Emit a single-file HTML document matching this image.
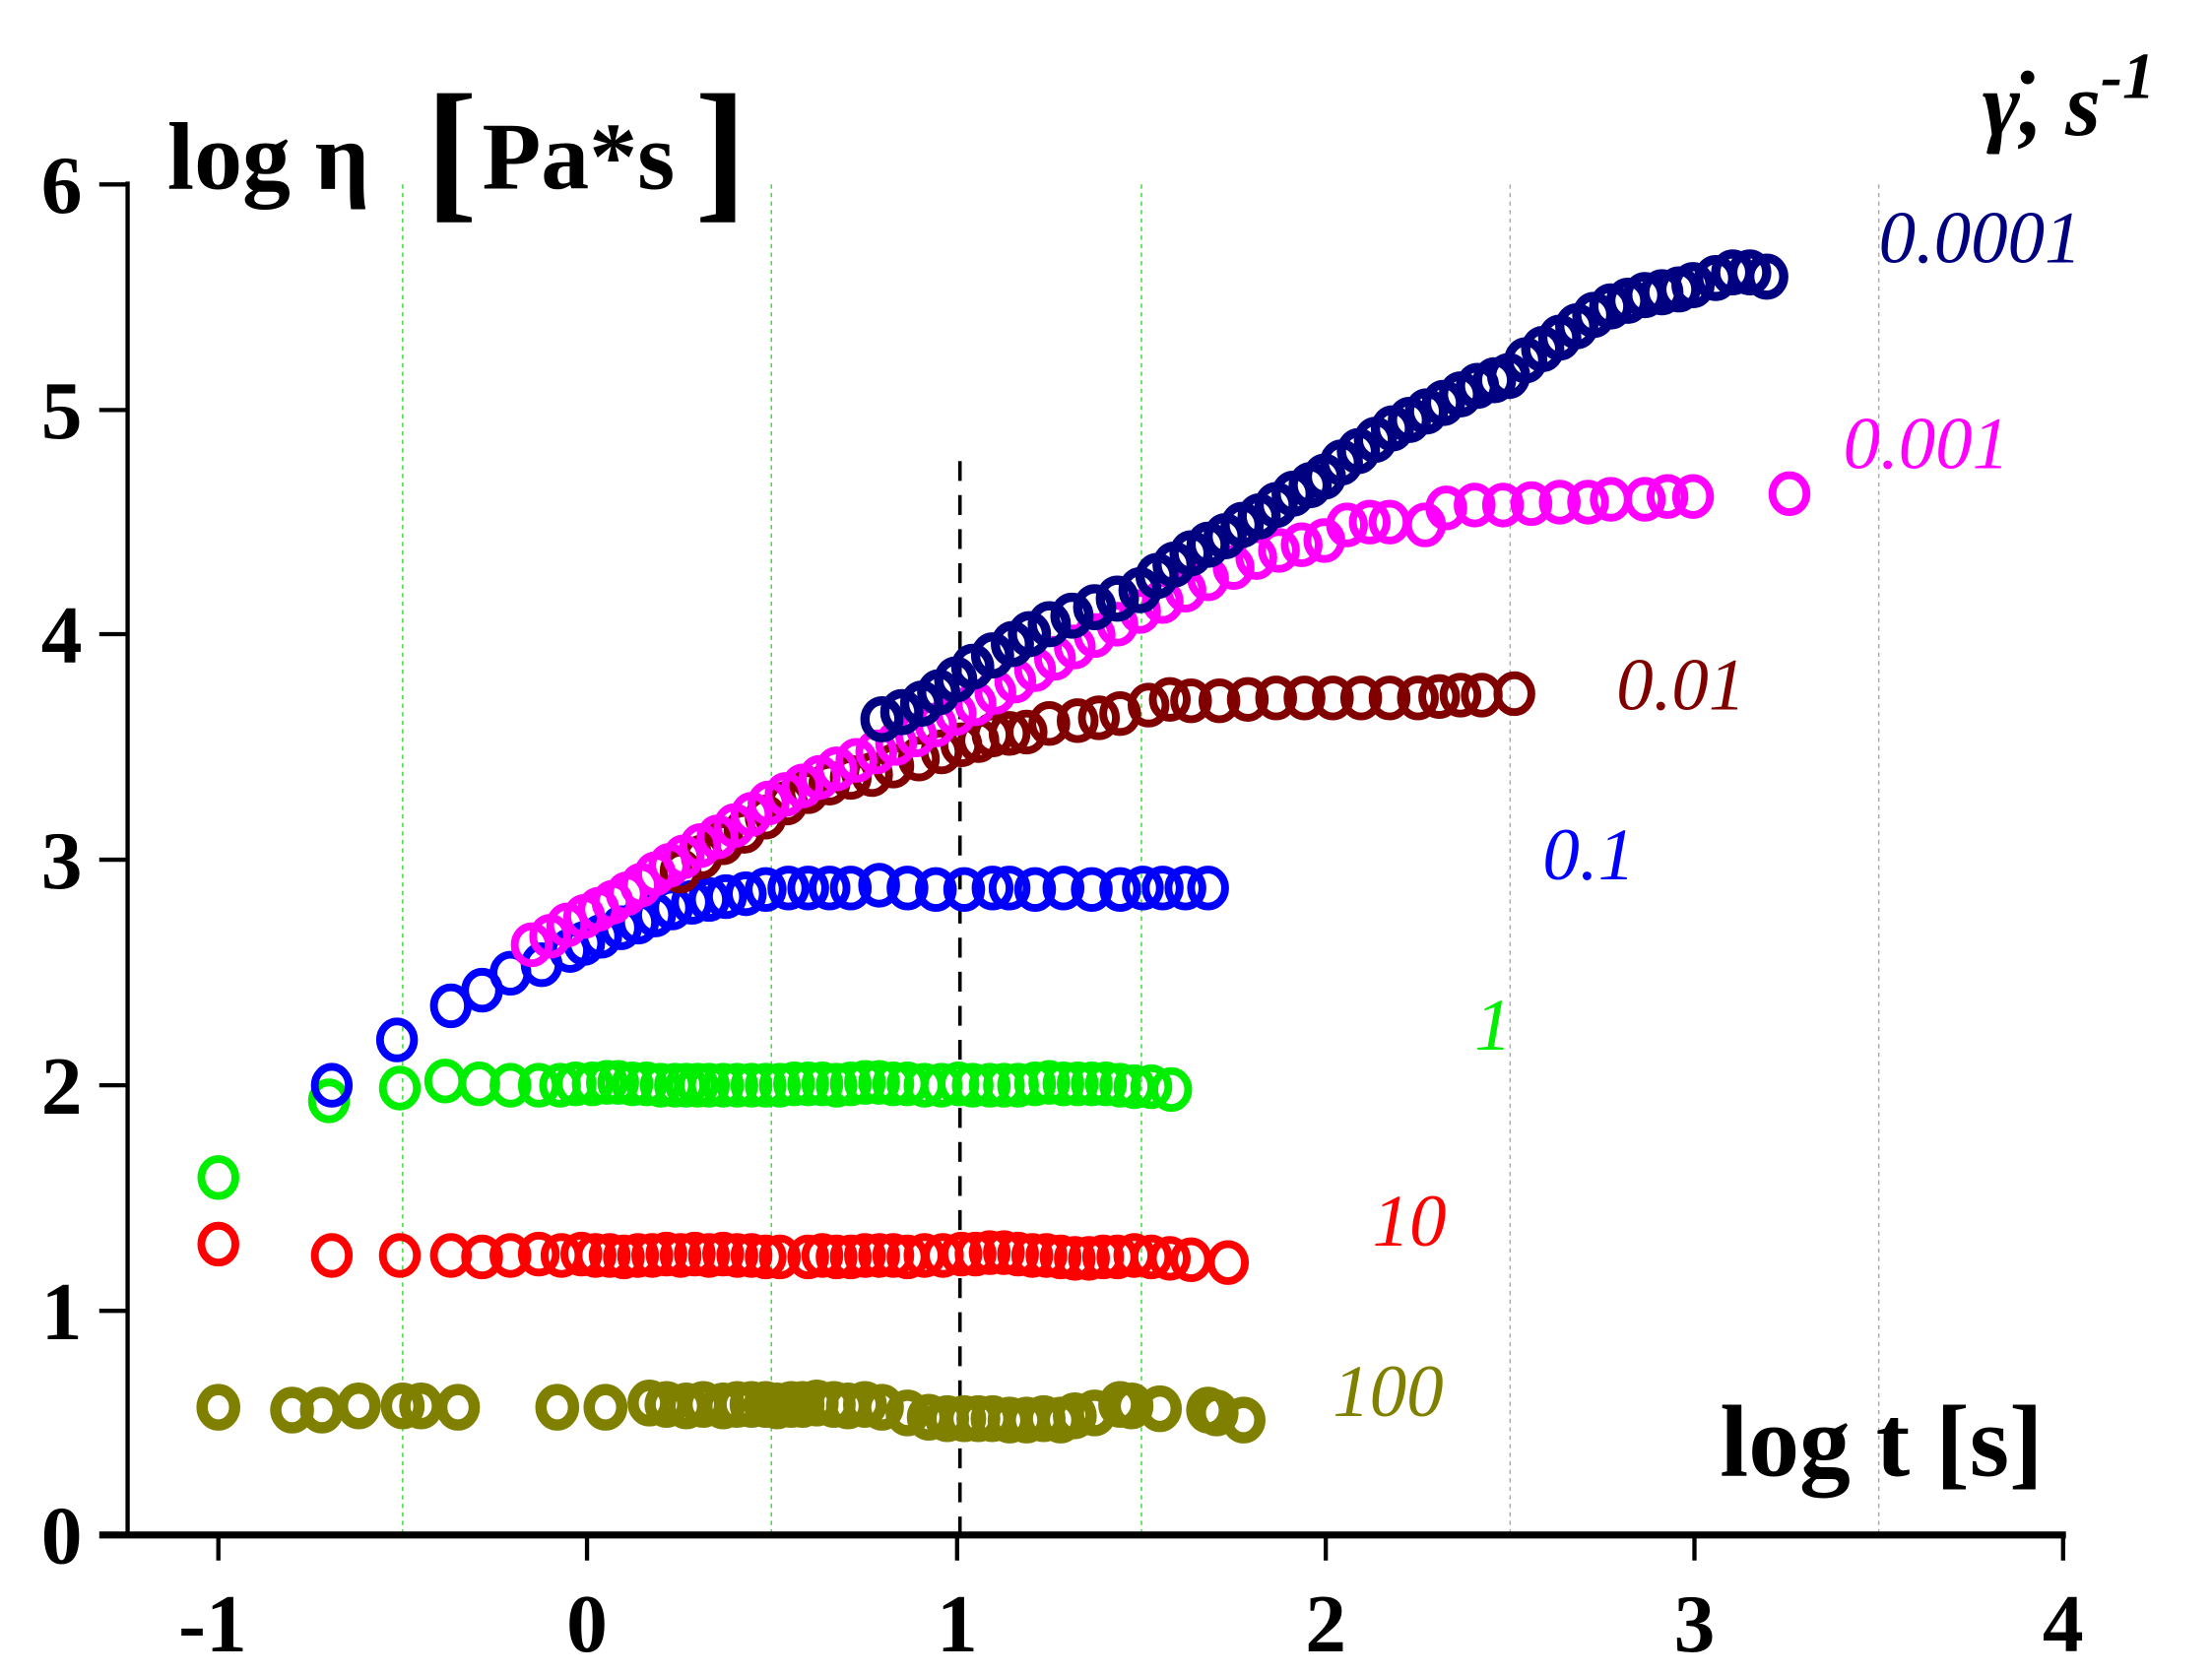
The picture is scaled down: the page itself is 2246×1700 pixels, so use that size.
<!DOCTYPE html>
<html><head><meta charset="utf-8"><style>
html,body{margin:0;padding:0;background:#fff;}
svg{display:block;}
</style></head><body>
<svg width="2246" height="1700" viewBox="0 0 1560 1180" preserveAspectRatio="none" xmlns="http://www.w3.org/2000/svg">
<defs>
<marker id="mo" markerWidth="40" markerHeight="40" refX="20" refY="20" markerUnits="userSpaceOnUse" overflow="visible"><ellipse cx="20" cy="20" rx="11.5" ry="12.5" fill="none" stroke="#808000" stroke-width="8"/></marker>
<marker id="mr" markerWidth="40" markerHeight="40" refX="20" refY="20" markerUnits="userSpaceOnUse" overflow="visible"><ellipse cx="20" cy="20" rx="12" ry="13" fill="none" stroke="#ff0000" stroke-width="5.5"/></marker>
<marker id="mg" markerWidth="40" markerHeight="40" refX="20" refY="20" markerUnits="userSpaceOnUse" overflow="visible"><ellipse cx="20" cy="20" rx="12" ry="13" fill="none" stroke="#00ee00" stroke-width="5.5"/></marker>
<marker id="mb" markerWidth="40" markerHeight="40" refX="20" refY="20" markerUnits="userSpaceOnUse" overflow="visible"><ellipse cx="20" cy="20" rx="12" ry="13" fill="none" stroke="#0000ff" stroke-width="5.5"/></marker>
<marker id="mw" markerWidth="40" markerHeight="40" refX="20" refY="20" markerUnits="userSpaceOnUse" overflow="visible"><ellipse cx="20" cy="20" rx="12" ry="13" fill="none" stroke="#800000" stroke-width="5.5"/></marker>
<marker id="mm" markerWidth="40" markerHeight="40" refX="20" refY="20" markerUnits="userSpaceOnUse" overflow="visible"><ellipse cx="20" cy="20" rx="12" ry="13" fill="none" stroke="#ff00ff" stroke-width="5.5"/></marker>
<marker id="mn" markerWidth="40" markerHeight="40" refX="20" refY="20" markerUnits="userSpaceOnUse" overflow="visible"><ellipse cx="20" cy="20" rx="12" ry="13" fill="none" stroke="#000080" stroke-width="6.5"/></marker>
</defs>
<g stroke-width="1" stroke-dasharray="3,3">
<line x1="284" y1="130" x2="284" y2="1080" stroke="#33dd33"/>
<line x1="544" y1="130" x2="544" y2="1080" stroke="#33dd33"/>
<line x1="805" y1="130" x2="805" y2="1080" stroke="#33dd33"/>
<line x1="1065" y1="130" x2="1065" y2="1080" stroke="#aaa"/>
<line x1="1325" y1="130" x2="1325" y2="1080" stroke="#aaa"/>
</g>
<line x1="677" y1="325" x2="677" y2="1082" stroke="#000" stroke-width="2.5" stroke-dasharray="14,10"/>
<g fill="none" stroke="none">
<polyline marker-start="url(#mo)" marker-mid="url(#mo)" marker-end="url(#mo)" points="154,992 206,994 227,994 253,991 284,991 297,991 323,992 393,992 427,992 458,989 470,990 484,991 496,990 510,991 520,990 530,990 540,990 548,991 558,990 566,990 576,989 588,990 598,991 610,990 622,992 640,996 655,999 668,1000 680,1000 690,1000 700,1000 712,1001 724,1001 736,1000 748,1001 758,998 772,996 790,990 798,991 818,993 852,994 858,996 877,1001"/>
<polyline marker-start="url(#mr)" marker-mid="url(#mr)" marker-end="url(#mr)" points="154,877 234,885 282,885 318,885 340,886 360,885 380,884 396,885 410,884 420,885 430,885 440,886 450,885 460,885 470,884 480,885 490,884 500,885 510,884 520,885 530,885 540,886 550,886 570,886 580,885 590,886 600,886 610,885 620,885 630,885 640,886 652,885 665,885 678,884 688,884 698,883 708,883 718,884 728,885 738,885 748,886 758,887 768,887 778,886 788,886 800,885 812,886 825,887 840,888 866,890"/>
<polyline marker-start="url(#mg)" marker-mid="url(#mg)" marker-end="url(#mg)" points="154,830 232,776 282,767 314,762 338,764 360,765 380,765 395,765 406,764 418,764 428,763 436,763 446,764 456,764 466,765 476,765 484,765 492,765 500,765 510,765 520,765 530,765 540,765 550,765 560,764 570,764 580,764 590,765 600,764 610,763 620,763 630,764 640,764 652,765 664,765 676,764 686,765 698,765 708,765 718,765 730,764 740,763 750,764 760,764 770,764 780,764 790,765 800,766 812,766 826,768"/>
<polyline marker-start="url(#mb)" marker-mid="url(#mb)" marker-end="url(#mb)" points="234,765 280,733 318,709 340,698 360,686 382,680 402,670 412,665 424,660 438,654 450,650 462,645 474,640 488,636 500,634 512,632 526,630 540,627 556,626 570,626 585,626 600,626 620,624 640,626 660,627 680,627 700,626 712,626 730,627 750,626 770,627 790,627 806,626 820,626 836,626 852,626"/>
<polyline marker-start="url(#mw)" marker-mid="url(#mw)" marker-end="url(#mw)" points="480,614 495,604 510,594 525,586 540,576 555,566 570,558 585,552 600,548 615,546 630,540 648,535 664,530 678,525 690,522 700,518 712,517 724,516 740,510 760,508 775,506 790,503 810,497 825,493 840,494 860,494 880,493 900,492 920,492 940,492 960,492 980,492 1000,492 1015,491 1030,490 1045,490 1068,489"/>
<polyline marker-start="url(#mm)" marker-mid="url(#mm)" marker-end="url(#mm)" points="375,666 388,660 400,652 412,646 422,641 432,636 442,630 452,624 462,616 472,610 482,604 494,596 506,590 518,582 530,574 542,566 554,560 566,554 578,548 590,542 604,536 618,530 632,524 646,518 660,511 674,503 688,496 702,488 716,480 730,472 744,464 758,456 772,448 788,440 804,431 820,424 836,416 852,408 870,400 886,393 902,388 918,384 934,381 950,370 966,368 980,368 1005,370 1020,358 1040,356 1060,356 1080,355 1100,354 1120,354 1136,352 1160,352 1176,350 1194,350 1262,348"/>
<polyline marker-start="url(#mn)" marker-mid="url(#mn)" marker-end="url(#mn)" points="622,507 636,502 650,496 662,488 674,479 686,470 700,462 714,454 726,447 740,440 756,434 772,428 788,422 804,416 816,406 828,398 840,390 852,384 864,378 876,370 888,364 900,356 912,348 924,342 934,336 946,326 958,318 970,310 982,302 994,296 1006,290 1018,284 1030,278 1042,272 1054,268 1064,265 1076,254 1088,246 1100,238 1112,230 1124,222 1136,216 1148,212 1160,208 1172,206 1184,204 1194,201 1210,196 1222,192 1234,192 1246,195"/>
</g>
<line x1="90" y1="128" x2="90" y2="1084" stroke="#000" stroke-width="3"/>
<line x1="70" y1="1082" x2="1457" y2="1082" stroke="#000" stroke-width="5"/>
<g stroke="#000" stroke-width="3">
<line x1="70" y1="130" x2="90" y2="130"/><line x1="70" y1="289" x2="90" y2="289"/><line x1="70" y1="447" x2="90" y2="447"/><line x1="70" y1="606" x2="90" y2="606"/><line x1="70" y1="765" x2="90" y2="765"/><line x1="70" y1="924" x2="90" y2="924"/>
<line x1="154" y1="1082" x2="154" y2="1100"/><line x1="414" y1="1082" x2="414" y2="1100"/><line x1="675" y1="1082" x2="675" y2="1100"/><line x1="935" y1="1082" x2="935" y2="1100"/><line x1="1195" y1="1082" x2="1195" y2="1100"/><line x1="1455" y1="1082" x2="1455" y2="1100"/>
</g>
<g font-family="Liberation Serif, serif" font-weight="bold" font-size="58" fill="#000">
<g text-anchor="end">
<text x="58" y="150">6</text><text x="58" y="309">5</text><text x="58" y="467">4</text><text x="58" y="626">3</text><text x="58" y="785">2</text><text x="58" y="944">1</text><text x="58" y="1102">0</text>
</g>
<g text-anchor="middle">
<text x="150" y="1164">-1</text><text x="414" y="1164">0</text><text x="675" y="1164">1</text><text x="935" y="1164">2</text><text x="1195" y="1164">3</text><text x="1455" y="1164">4</text>
</g>
<text x="118" y="133" font-size="68">log η</text>
<text x="300" y="142" font-size="110">[</text>
<text x="340" y="133" font-size="68">Pa*s</text>
<text x="490" y="142" font-size="110">]</text>
<text x="1213" y="1040" font-size="72">log t [s]</text>
<text x="1398" y="95" font-size="64" font-style="italic">γ̇, s<tspan font-size="46" dy="-26">-1</tspan></text>
</g>
<g font-family="Liberation Serif, serif" font-style="italic" font-size="52">
<text x="1325" y="185" fill="#000080">0.0001</text>
<text x="1300" y="330" fill="#ff00ff">0.001</text>
<text x="1140" y="500" fill="#800000">0.01</text>
<text x="1088" y="620" fill="#0000ff">0.1</text>
<text x="1040" y="740" fill="#00ee00">1</text>
<text x="968" y="878" fill="#ff0000">10</text>
<text x="940" y="998" fill="#808000">100</text>
</g>
</svg>
</body></html>
